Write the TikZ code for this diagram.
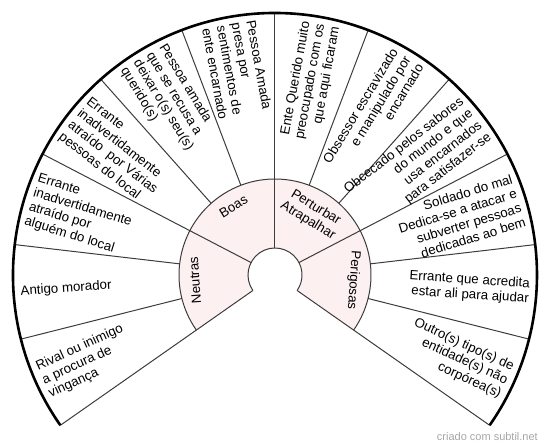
\documentclass[tikz,border=0pt]{standalone}
\usepackage{fontspec}
\setmainfont{Liberation Sans}
\definecolor{ringpink}{RGB}{253,240,240}
\definecolor{edgegray}{RGB}{60,60,60}
\begin{document}
\begin{tikzpicture}[x=1pt,y=1pt,
  txt/.style={font=\fontsize{13.3}{15}\selectfont, inner sep=0pt, text=black},
  lefttxt/.style={txt, anchor=west, align=left},
  righttxt/.style={txt, anchor=east, align=right},
  grouptxt/.style={txt, anchor=north, align=center},
  thinline/.style={draw=edgegray, line width=1pt},
  rimline/.style={draw=black, line width=2.6pt}]
\useasboundingbox (-275,-173) rectangle (275,275);
\def\ri{27}\def\rm{96}\def\ro{262}\def\rt{255}\def\rg{85}
% pink middle ring
\fill[ringpink] (215:\ri) arc[start angle=215,end angle=-35,radius=\ri]
  -- (-35:\rm) arc[start angle=-35,end angle=215,radius=\rm] -- cycle;
% inner arc and middle arc
\draw[thinline] (215:\ri) arc[start angle=215,end angle=-35,radius=\ri];
\draw[thinline] (215:\rm) arc[start angle=215,end angle=-35,radius=\rm];
% group boundaries (full length)
\foreach \a in {215,152.5,90,27.5,-35}
  \draw[thinline] (\a:\ri) -- (\a:\ro);
% item boundaries (outer ring)
\foreach \a in {194.1667,173.3333,131.6667,110.8333,69.1667,48.3333,6.6667,-14.1667}
  \draw[thinline] (\a:\rm) -- (\a:\ro);
% outer rim
\draw[rimline] (215:\ro) arc[start angle=215,end angle=-35,radius=\ro];
% outer texts, left half
\node[lefttxt, rotate=384.5833] (o0) at (204.5833:\rt) {Rival ou inimigo\\a procura de\\vingança};
\node[lefttxt, rotate=363.75] (o1) at (183.75:\rt) {Antigo morador};
\node[lefttxt, rotate=342.9167] (o2) at (162.9167:\rt) {Errante\\inadvertidamente\\atraído por\\alguém do local};
\node[lefttxt, rotate=322.0833] (o3) at (142.0833:\rt) {Errante\\inadvertidamente\\atraído~ por Várias\\pessoas do local};
\node[lefttxt, rotate=301.25] (o4) at (121.25:\rt) {Pessoa amada\\que se recusa a\\deixar o(s) seu(s)\\querido(s)};
\node[lefttxt, rotate=280.4167] (o5) at (100.4167:\rt) {Pessoa Amada\\presa por\\sentimentos de\\ente encarnado};
% outer texts, right half
\node[righttxt, rotate=79.5833] (o6) at (79.5833:\rt) {Ente Querido muito\\preocupado com os\\que aqui ficaram};
\node[righttxt, rotate=58.75] (o7) at (58.75:\rt) {Obsessor escravizado\\e manipulado por\\encarnado};
\node[righttxt, rotate=37.9167] (o8) at (37.9167:\rt) {Obcecado pelos sabores\\do mundo e que\\usa encarnados\\para satisfazer-se};
\node[righttxt, rotate=17.0833] (o9) at (17.0833:\rt) {Soldado do mal\\Dedica-se a atacar e\\subverter pessoas\\dedicadas ao bem};
\node[righttxt, rotate=-3.75] (o10) at (-3.75:\rt) {Errante que acredita\\estar ali para ajudar};
\node[righttxt, rotate=-24.5833] (o11) at (-24.5833:\rt) {Outro(s) tipo(s) de\\entidade(s) não\\corpórea(s)};
% group texts
\node[grouptxt, rotate=93.75] (g1) at (183.75:\rg) {Neutras};
\node[grouptxt, rotate=31.25] (g2) at (121.25:\rg) {Boas};
\node[grouptxt, rotate=-31.25] (g3) at (58.75:\rg) {Perturbar\\Atrapalhar};
\node[grouptxt, rotate=-93.75] (g4) at (-3.75:\rg) {Perigosas};
% watermark
\node[anchor=east, inner sep=0pt, text=black!35, font=\fontsize{11}{13}\selectfont] (wm) at (263,-162) {criado com subtil.net};
\end{tikzpicture}
\end{document}
